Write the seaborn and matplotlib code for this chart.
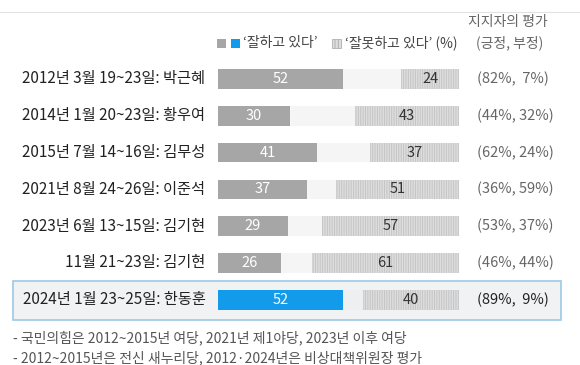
import matplotlib
matplotlib.use("Agg")
import matplotlib.pyplot as plt
from matplotlib.patches import Rectangle
import seaborn as sns
import pandas as pd

# ---- data ----
labels = ["2012년 3월 19~23일: 박근혜", "2014년 1월 20~23일: 황우여", "2015년 7월 14~16일: 김무성",
          "2021년 8월 24~26일: 이준석", "2023년 6월 13~15일: 김기현", "11월 21~23일: 김기현",
          "2024년 1월 23~25일: 한동훈"]
positive = [52, 30, 41, 37, 29, 26, 52]
negative = [24, 43, 37, 51, 57, 61, 40]
supporter_pos = [82, 44, 62, 36, 53, 46, 89]
supporter_neg = [7, 32, 24, 59, 37, 44, 9]
legend_good = "‘잘하고 있다’"
legend_bad = "‘잘못하고 있다’ (%)"
header = ["지지자의 평가", "(긍정, 부정)"]
notes = ["- 국민의힘은 2012~2015년 여당, 2021년 제1야당, 2023년 이후 여당",
         "- 2012~2015년은 전신 새누리당, 2012·2024년은 비상대책위원장 평가"]

sns.set_style("white")
plt.rcParams["font.family"] = ["Noto Sans CJK KR", "DejaVu Sans"]
plt.rcParams["hatch.linewidth"] = 0.7

W, H = 580, 365
fig = plt.figure(figsize=(W / 100, H / 100), dpi=100)
ax = fig.add_axes([0, 0, 1, 1])
ax.set_facecolor("none")
ax.patch.set_alpha(0)

def fx(x):
    return x / W

def fy(y):
    return 1 - y / H

# highlight box for last row (behind bars)
ax.add_patch(Rectangle((fx(13), fy(320)), fx(561) - fx(13), fy(281) - fy(320),
                       transform=fig.transFigure, facecolor="#f1f2f3",
                       edgecolor="#9cc9e6", linewidth=1.2, zorder=0.5))
# top rule
fig.lines.append(plt.Line2D([0, 1], [fy(12), fy(12)], transform=fig.transFigure,
                            color="#e2e2e2", linewidth=0.8))

df = pd.DataFrame({"label": labels, "pos": positive, "neg": negative,
                   "full": [100] * len(labels),
                   "gap": [100 - n for n in negative]})

bw = 0.53
pos_colors = ["#a6a6a6"] * (len(labels) - 1) + ["#129bea"]
track_colors = ["#f5f5f5"] * (len(labels) - 1) + ["#eeeff0"]

# hatched (negative) bars span full, then track overlays the left part
sns.barplot(data=df, x="full", y="label", orient="h", color="#dedede", width=bw,
            hatch="|||||||", edgecolor="#c4c4c4", linewidth=0, ax=ax, saturation=1)
sns.barplot(data=df, x="gap", y="label", orient="h", hue="label", palette=track_colors,
            width=bw, linewidth=0, ax=ax, legend=False, saturation=1)
sns.barplot(data=df, x="pos", y="label", orient="h", hue="label", palette=pos_colors,
            width=bw, linewidth=0, ax=ax, legend=False, saturation=1)

k = 2.41  # px per %
ax.set_xlim(-218 / k, (W - 218) / k)
y0, dy = 79, 36.8
ax.set_ylim((H - y0) / dy, -y0 / dy)
ax.axis("off")

for i, lab in enumerate(labels):
    last = i == len(labels) - 1
    ax.text(-5.2, i, lab, ha="right", va="center", fontsize=11, color="#222222")
    ax.text(positive[i] / 2, i, str(positive[i]), ha="center", va="center",
            fontsize=10.5, color="white")
    ax.text(100 - negative[i] / 2, i, str(negative[i]), ha="center", va="center",
            fontsize=10.5, color="#333333")
    sp = "  " if supporter_neg[i] < 10 else " "
    ax.text(107.5, i, f"({supporter_pos[i]}%,{sp}{supporter_neg[i]}%)", ha="left",
            va="center", fontsize=10.5, color="#222222" if last else "#666666",
            fontweight="medium" if last else "normal")

# legend
ly = 43
fig.patches.append(Rectangle((fx(217), fy(ly + 5)), fx(9), 9 / H, transform=fig.transFigure,
                             facecolor="#a6a6a6", linewidth=0))
fig.patches.append(Rectangle((fx(231), fy(ly + 5)), fx(9), 9 / H, transform=fig.transFigure,
                             facecolor="#129bea", linewidth=0))
fig.text(fx(243), fy(ly), legend_good, ha="left", va="center", fontsize=10, color="#444444")
fig.patches.append(Rectangle((fx(332), fy(ly + 5)), fx(9), 9 / H, transform=fig.transFigure,
                             facecolor="#dedede", edgecolor="#b0b0b0", linewidth=0.6,
                             hatch="|||||"))
fig.text(fx(345), fy(ly), legend_bad, ha="left", va="center", fontsize=10, color="#444444")

fig.text(fx(508), fy(22), header[0], ha="center", va="center", fontsize=10, color="#666666")
fig.text(fx(510), fy(43), header[1], ha="center", va="center", fontsize=10, color="#666666")

fig.text(fx(13), fy(338), notes[0], ha="left", va="center", fontsize=10, color="#555555")
fig.text(fx(13), fy(358), notes[1], ha="left", va="center", fontsize=10, color="#555555")

fig.savefig("out.png", dpi=100)
